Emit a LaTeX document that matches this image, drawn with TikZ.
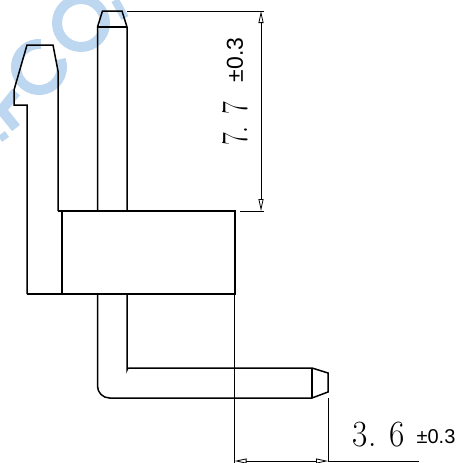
\documentclass[tikz,border=0pt]{standalone}
\usepackage{graphicx}
\usepackage{fontspec}
\setsansfont{Liberation Sans}
\usetikzlibrary{arrows.meta}
\definecolor{wmark}{RGB}{190,215,240}
\begin{document}
\begin{tikzpicture}[x=1pt,y=-1pt]
\tikzset{part/.style={line width=1.5pt,line join=miter},
dimline/.style={line width=0.8pt},
dimarrow/.style={line width=0.8pt,{Triangle[open,length=12pt,width=5pt]}-{Triangle[open,length=12pt,width=5pt]}},
water/.style={line width=10pt,color=wmark},
big/.style={font=\fontsize{37}{37}\selectfont,inner sep=0pt},
tol/.style={font=\sffamily\fontsize{20}{20}\selectfont,inner sep=0pt},
}
\useasboundingbox (0,0) rectangle (460,463);

% watermark
\draw[water] (39,67) ++(-85:23) arc (-85:-380:23);
\draw[water] (81,23) circle (24);
\draw[water] (0,108) -- (16,128);
\draw[water] (0,112) -- (16,92);
\draw[water,line width=7pt] (0,139) -- (7,134);
\draw[water,line width=8pt] (115,0) -- (125,18);

% left pin
\draw[part] (27,294) -- (27,105) -- (14,105) -- (14,90) -- (27,45) -- (53,45) -- (58,71) -- (58,211);
% right pin
\draw[part] (97.5,211) -- (97.5,27) -- (102.5,11) -- (122,11) -- (127,27) -- (127,211);
\draw[part] (97.5,27) -- (127,27);
% body
\draw[part] (27,294) -- (235,294) -- (235,211) -- (58,211);
\draw[part] (62,211) -- (62,294);
% lower pin
\draw[part] (97.5,294) -- (97.5,386) arc (180:90:12) -- (312,398) -- (328,392) -- (328,373) -- (312,368) -- (129,368) arc (270:180:2) -- (127,294);
\draw[part] (312,368) -- (312,398);

% dimensions
\coordinate (topa) at (127,11);
\coordinate (topb) at (264,11);
\coordinate (bota) at (240,211);
\coordinate (botb) at (264,211);
\draw[dimline] (topa) -- (topb);
\draw[dimline] (bota) -- (botb);
\draw[dimarrow] (261,11) -- (261,211);
\node[big,rotate=90] (hval) at (235.5,124) {\scalebox{0.75}[1]{\addfontfeature{FakeBold=1.5}7. 7}};
\node[tol,rotate=90,font=\sffamily\fontsize{23}{23}\selectfont] (htol) at (235,60) {±0.3};

\coordinate (lefta) at (234.5,294);
\coordinate (leftb) at (234.5,463);
\coordinate (righta) at (328,398);
\coordinate (rightb) at (328,461);
\coordinate (lineend) at (419,461);
\draw[dimline] (lefta) -- (leftb);
\draw[dimline] (righta) -- (rightb);
\draw[dimarrow] (234.5,461) -- (328,461);
\draw[dimline] (rightb) -- (lineend);
\node[big] (wval) at (379,435) {\scalebox{0.9}[1]{3. 6}};
\node[tol] (wtol) at (436,437) {±0.3};

\end{tikzpicture}
\end{document}
